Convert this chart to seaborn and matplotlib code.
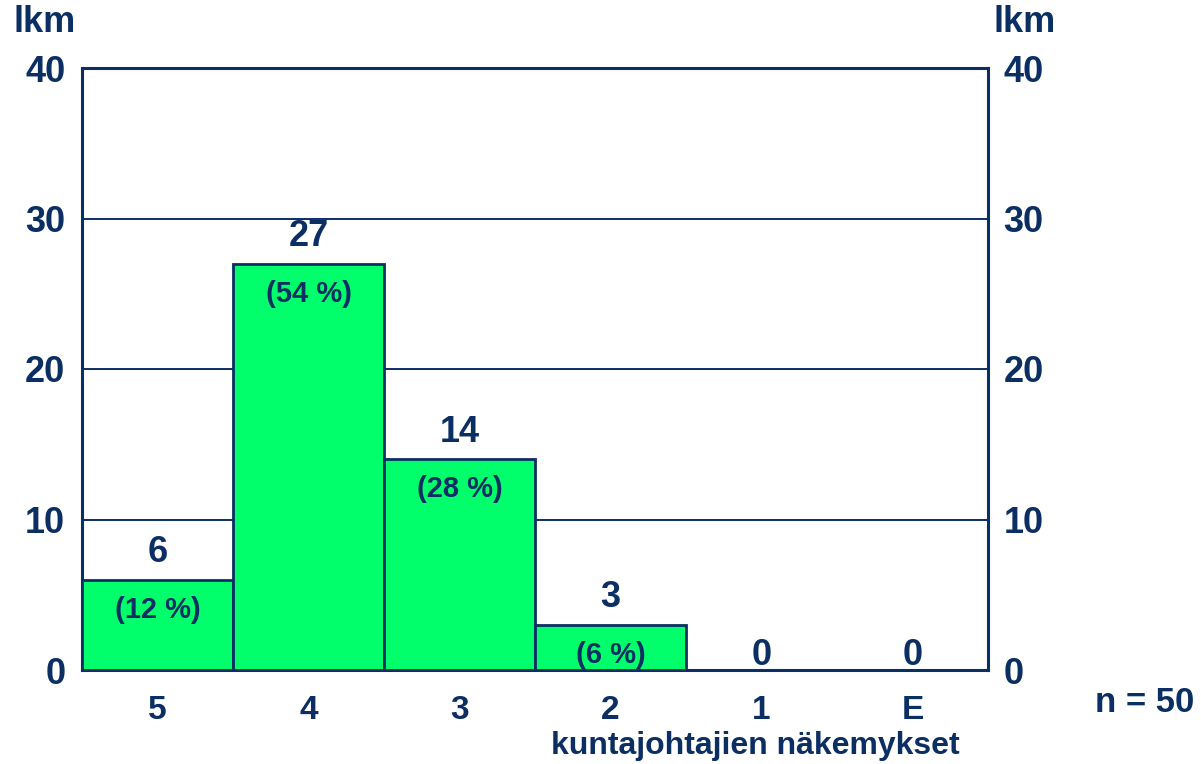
import matplotlib
matplotlib.use("Agg")
import matplotlib.pyplot as plt
import seaborn as sns
import pandas as pd

categories = ["5", "4", "3", "2", "1", "E"]
counts = [6, 27, 14, 3, 0, 0]
percents = ["(12 %)", "(54 %)", "(28 %)", "(6 %)", "", ""]
yticks = [0, 10, 20, 30, 40]

NAVY = "#0B2E63"
GREEN = "#00FF6A"

sns.set_theme(style="white")
plt.rcParams['font.family'] = ['Liberation Sans', 'DejaVu Sans']
plt.rcParams['font.weight'] = 'bold'

fig = plt.figure(figsize=(12.01, 7.64), dpi=100)
ax = fig.add_axes([82/1201, 1-670/764, (988-82)/1201, (670-68)/764])

df = pd.DataFrame({"cat": categories, "n": counts})
sns.barplot(data=df, x="cat", y="n", ax=ax, color=GREEN, width=1.0,
            edgecolor=NAVY, linewidth=2.0, saturation=1, zorder=3)

ax.set_ylim(0, 40)
ax.set_xlim(-0.5, len(categories) - 0.5)
ax.set_yticks(yticks)
ax.set_yticklabels([str(t) for t in yticks], fontsize=26, fontweight='bold', color=NAVY)
ax.set_xticks(range(len(categories)))
ax.set_xticklabels(categories, fontsize=24, fontweight='bold', color=NAVY)
ax.tick_params(axis='both', length=0)
ax.tick_params(axis='y', pad=12)
ax.tick_params(axis='x', pad=18)
ax.set_xlabel("")
ax.set_ylabel("")
for t in yticks[1:]:
    ax.axhline(t, color=NAVY, lw=1.4, zorder=1)
for s in ax.spines.values():
    s.set_color(NAVY)
    s.set_linewidth(2.2)
    s.set_visible(True)

ax2 = ax.twinx()
ax2.set_ylim(0, 40)
ax2.set_yticks(yticks)
ax2.set_yticklabels([str(t) for t in yticks], fontsize=26, fontweight='bold', color=NAVY)
ax2.tick_params(axis='y', length=0, pad=11)
for s in ax2.spines.values():
    s.set_visible(False)
ax2.grid(False)

for i, (c, p) in enumerate(zip(counts, percents)):
    off = 27 if c > 0 else 15
    ax.annotate(str(c), (i, c), xytext=(0, off / 1.389), textcoords="offset points",
                ha="center", va="center", fontsize=26, fontweight="bold", color=NAVY, zorder=5)
    if p:
        ax.annotate(p, (i, c), xytext=(0, -30 / 1.389), textcoords="offset points",
                    ha="center", va="center", fontsize=21, fontweight="bold", color=NAVY, zorder=5)

fig.text(14/1201, 1-22/764, "lkm", fontsize=26, fontweight="bold", color=NAVY, ha="left", va="center")
fig.text(994/1201, 1-22/764, "lkm", fontsize=26, fontweight="bold", color=NAVY, ha="left", va="center")
fig.text(755/1201, 1-746/764, "kuntajohtajien näkemykset", fontsize=23, fontweight="bold",
         color=NAVY, ha="center", va="center")
fig.text(1194/1201, 1-702/764, "n = 50", fontsize=25, fontweight="bold", color=NAVY,
         ha="right", va="center")

fig.savefig("out.png", dpi=100)
